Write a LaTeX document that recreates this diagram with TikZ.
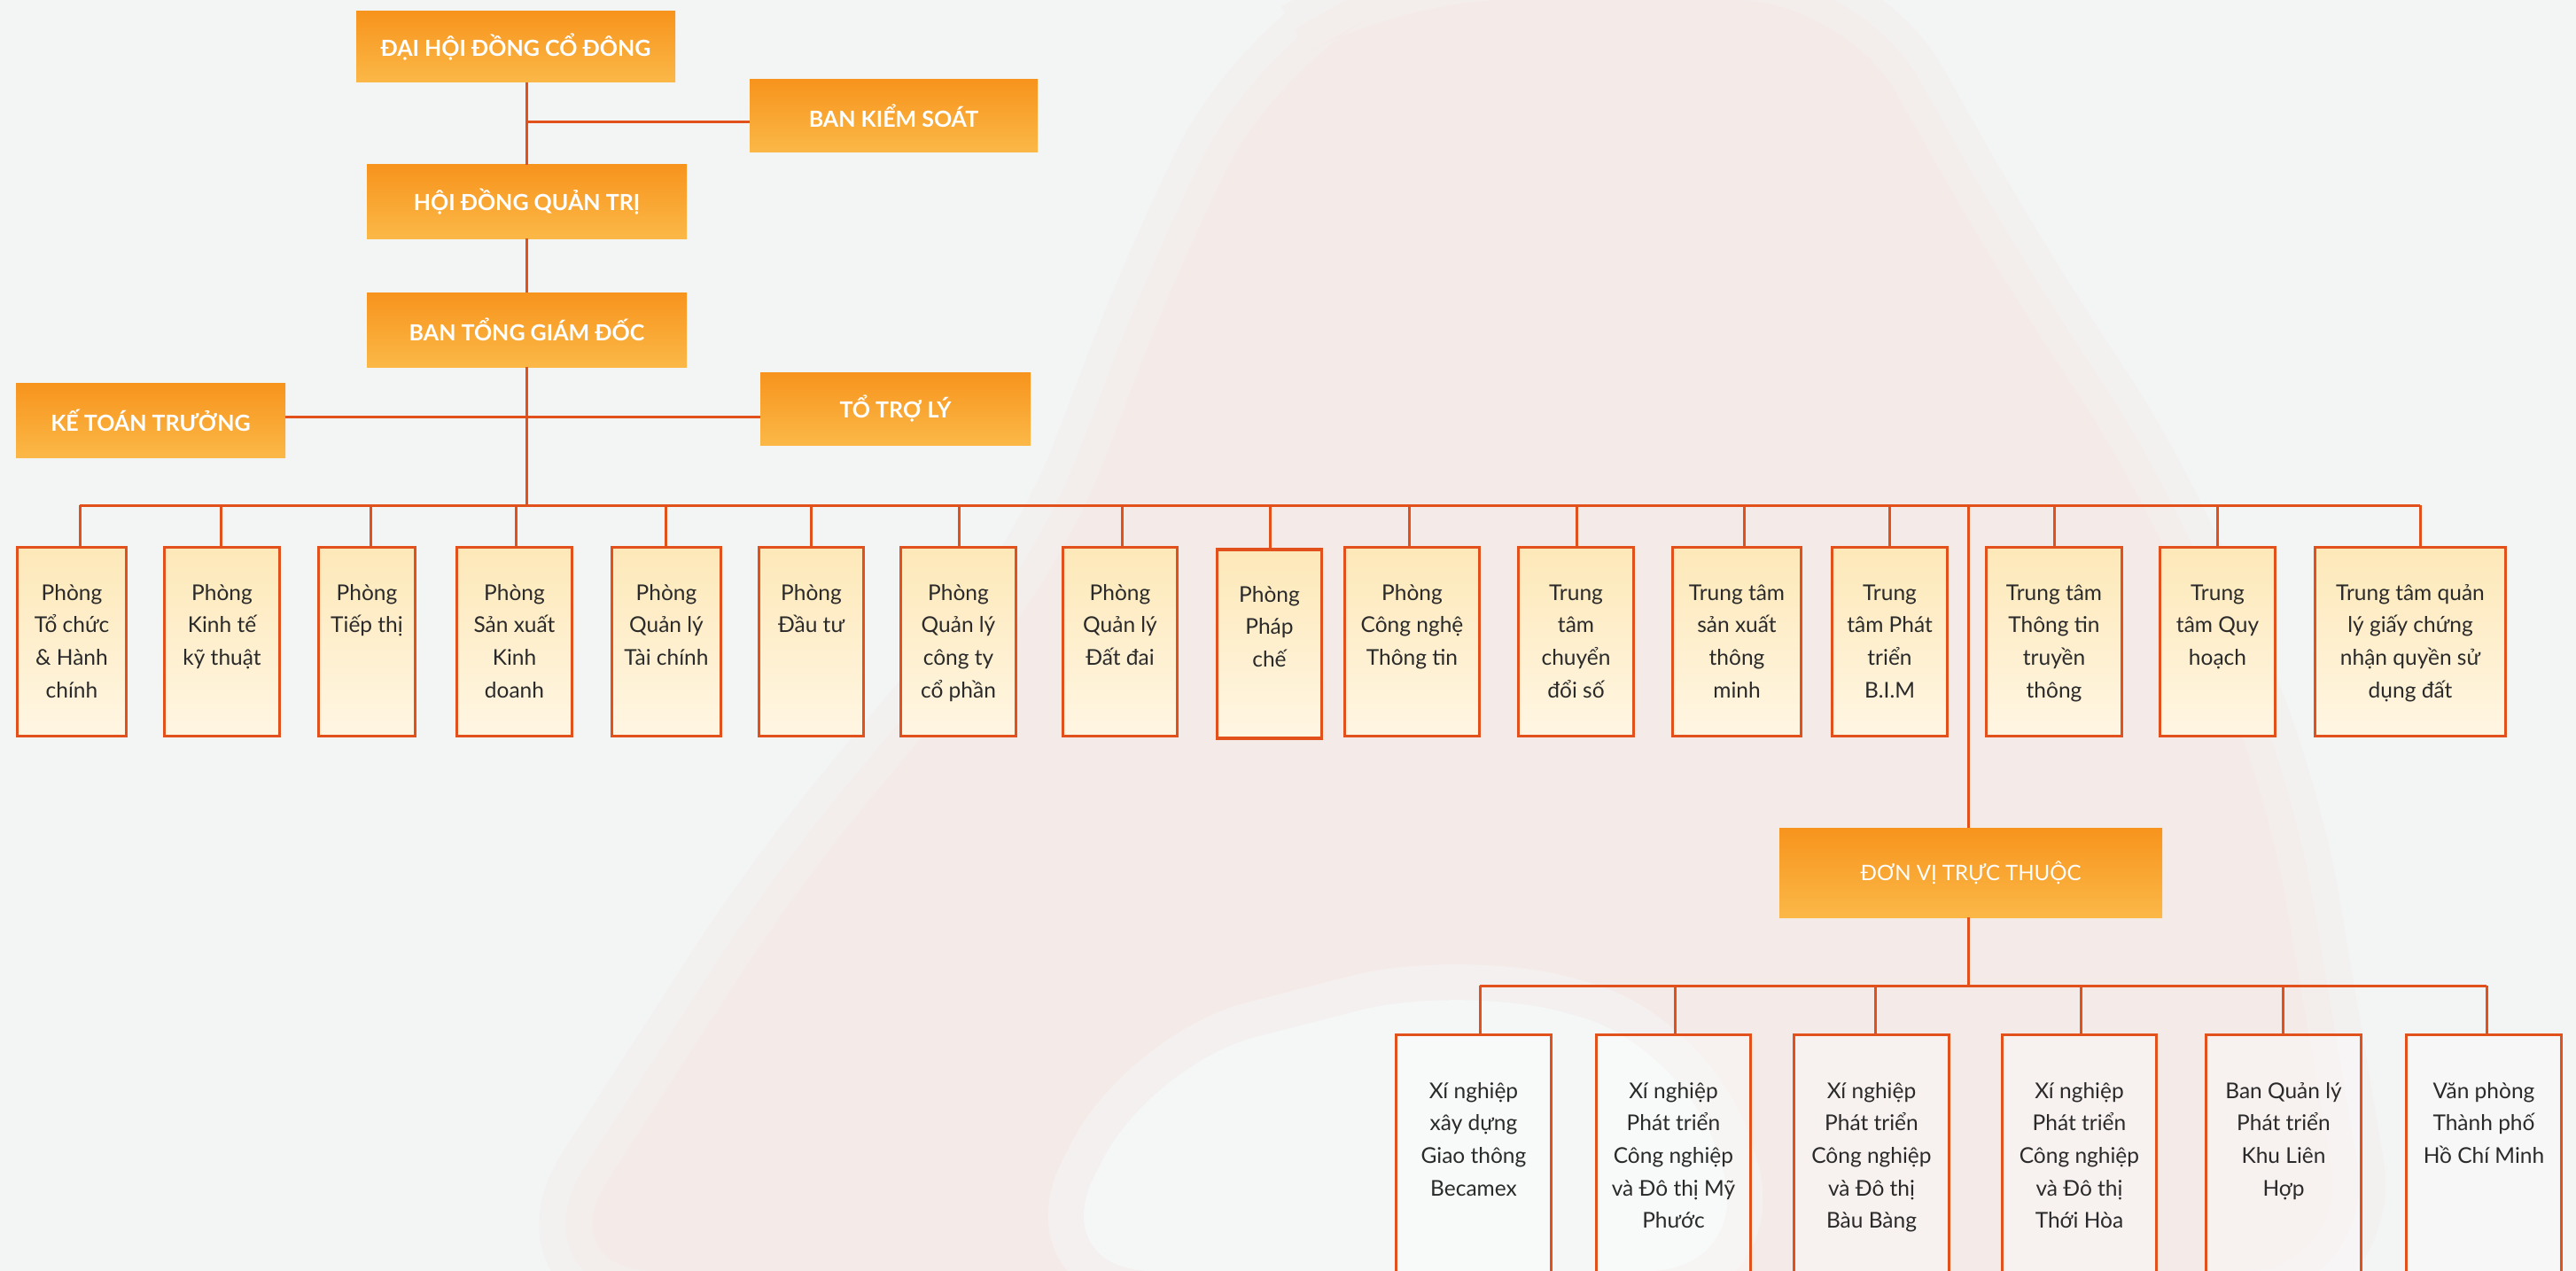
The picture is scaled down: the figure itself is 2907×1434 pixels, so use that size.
\documentclass[tikz,border=0pt]{standalone}
\usepackage{fontspec}
\setmainfont{Lato}
\usetikzlibrary{calc}
\definecolor{bgc}{HTML}{F3F4F4}
\definecolor{linec}{HTML}{E2501C}
\definecolor{hdtop}{HTML}{F7941D}
\definecolor{hdbot}{HTML}{FBB847}
\definecolor{bxtop}{HTML}{FDE8B8}
\definecolor{bxbot}{HTML}{FFF6E3}
\definecolor{txtc}{HTML}{2A2A2A}
\definecolor{pinkbg}{HTML}{F4EBE9}
\definecolor{sleeve}{HTML}{F5F6F6}
\tikzset{
  hdr/.style={rectangle, inner sep=0pt, top color=hdtop, bottom color=hdbot, text=white, font=\fontsize{25}{28}\selectfont\bfseries},
  hdrlight/.style={hdr, font=\fontsize{24}{28}\selectfont},
  unitbox/.style={rectangle, draw=linec, line width=3.5pt, inner sep=0pt, top color=bxtop, bottom color=bxbot, minimum height=213pt},
  subbox/.style={rectangle, draw=linec, line width=3pt, inner sep=0pt, fill=white, fill opacity=0.35, minimum height=300pt},
  lbl/.style={inner sep=0pt, anchor=base, text=txtc},
  conn/.style={draw=linec, line width=3pt},
  handshape/.style={rounded corners=120pt},
}
\newcommand\lns[1]{\parbox[t]{240pt}{\centering\fontsize{24.5}{36.7}\selectfont #1}}
\newcommand\handpath{(620,1434) -- (900,1000) -- (1200,640) -- (1330,300) -- (1440,80) -- (1580,0) -- (2080,0) -- (2250,300) -- (2420,560) -- (2560,900) -- (2650,1434) -- cycle}
\newcommand\sleevepath{(1180,1434) -- (1300,1200) -- (1650,1110) -- (1900,1180) -- (1980,1434) -- cycle}
\begin{document}
\begin{tikzpicture}[x=1pt,y=-1pt]
\clip (0,0) rectangle (2907,1434);
\fill[bgc] (0,0) rectangle (2907,1434);
% faint background photo (hands), soft edges
\draw[pinkbg, handshape, line width=120pt, opacity=0.35] \handpath;
\draw[pinkbg, handshape, line width=60pt, opacity=0.5] \handpath;
\fill[pinkbg, handshape] \handpath;
\draw[sleeve, handshape, line width=80pt, opacity=0.5] \sleevepath;
\fill[sleeve, handshape] \sleevepath;

% top header nodes
\node[hdr, minimum width=360pt, minimum height=80pt] (dhd) at (582,53) {ĐẠI HỘI ĐỒNG CỔ ĐÔNG};
\node[hdr, minimum width=325pt, minimum height=82pt] (bks) at (1008.5,131) {BAN KIỂM SOÁT};
\node[hdr, minimum width=361pt, minimum height=83pt] (hdqt) at (594.5,227.5) {HỘI ĐỒNG QUẢN TRỊ};
\node[hdr, minimum width=361pt, minimum height=84pt] (btgd) at (594.5,372) {BAN TỔNG GIÁM ĐỐC};
\node[hdr, minimum width=304pt, minimum height=84pt] (ktt) at (170,474) {KẾ TOÁN TRƯỞNG};
\node[hdr, minimum width=305pt, minimum height=82pt] (ttl) at (1010.5,461) {TỔ TRỢ LÝ};
\node[hdrlight, minimum width=432pt, minimum height=101pt] (dvtt) at (2224,984.5) {ĐƠN VỊ TRỰC THUỘC};

% upper connectors
\coordinate (jb) at (594.5,138);
\coordinate (jk) at (594.5,470);
\coordinate (jm) at (594.5,570);
\draw[conn] (hdqt.north |- dhd.south) -- (hdqt.north);
\draw[conn] (jb) -- (jb -| bks.west);
\draw[conn] (hdqt.south) -- (btgd.north);
\draw[conn] (btgd.south) -- (jm);
\draw[conn] (jk -| ktt.east) -- (jk -| ttl.west);

% departments
\node[unitbox, minimum width=123pt] (p1) at (81,724) {};
\node[unitbox, minimum width=130pt] (p2) at (250.5,724) {};
\node[unitbox, minimum width=109pt] (p3) at (414,724) {};
\node[unitbox, minimum width=130pt] (p4) at (580.5,724) {};
\node[unitbox, minimum width=123pt] (p5) at (752,724) {};
\node[unitbox, minimum width=118pt] (p6) at (915.5,724) {};
\node[unitbox, minimum width=130pt] (p7) at (1081.5,724) {};
\node[unitbox, minimum width=129pt] (p8) at (1264,724) {};
\node[unitbox, minimum width=118pt] (p9) at (1432.5,726.5) {};
\node[unitbox, minimum width=152pt] (p10) at (1593.5,724) {};
\node[unitbox, minimum width=130pt] (p11) at (1778.5,724) {};
\node[unitbox, minimum width=145pt] (p12) at (1960,724) {};
\node[unitbox, minimum width=130pt] (p13) at (2132.5,724) {};
\node[unitbox, minimum width=153pt] (p14) at (2318,724) {};
\node[unitbox, minimum width=130pt] (p15) at (2502.5,724) {};
\node[unitbox, minimum width=215pt] (p16) at (2720,724) {};

\node[lbl] (l1) at (81,677) {\lns{Phòng\\Tổ chức\\\& Hành\\chính}};
\node[lbl] (l2) at (250.5,677) {\lns{Phòng\\Kinh tế\\kỹ thuật}};
\node[lbl] (l3) at (414,677) {\lns{Phòng\\Tiếp thị}};
\node[lbl] (l4) at (580.5,677) {\lns{Phòng\\Sản xuất\\Kinh\\doanh}};
\node[lbl] (l5) at (752,677) {\lns{Phòng\\Quản lý\\Tài chính}};
\node[lbl] (l6) at (915.5,677) {\lns{Phòng\\Đầu tư}};
\node[lbl] (l7) at (1081.5,677) {\lns{Phòng\\Quản lý\\công ty\\cổ phần}};
\node[lbl] (l8) at (1264,677) {\lns{Phòng\\Quản lý\\Đất đai}};
\node[lbl] (l9) at (1432.5,679) {\lns{Phòng\\Pháp\\chế}};
\node[lbl] (l10) at (1593.5,677) {\lns{Phòng\\Công nghệ\\Thông tin}};
\node[lbl] (l11) at (1778.5,677) {\lns{Trung\\tâm\\chuyển\\đổi số}};
\node[lbl] (l12) at (1960,677) {\lns{Trung tâm\\sản xuất\\thông\\minh}};
\node[lbl] (l13) at (2132.5,677) {\lns{Trung\\tâm Phát\\triển\\B.I.M}};
\node[lbl] (l14) at (2318,677) {\lns{Trung tâm\\Thông tin\\truyền\\thông}};
\node[lbl] (l15) at (2502.5,677) {\lns{Trung\\tâm Quy\\hoạch}};
\node[lbl] (l16) at (2720,677) {\lns{Trung tâm quản\\lý giấy chứng\\nhận quyền sử\\dụng đất}};

% main bus
\coordinate (busL) at (90,570);
\coordinate (busR) at (2731,570);
\draw[conn] (busL) -- (busR);
\foreach \n/\x in {1/90,2/249,3/418,4/582,5/751,6/915,7/1082,8/1266,9/1433,10/1590,11/1779,12/1968,13/2132,14/2318,15/2502,16/2731}{
  \coordinate (t\n) at (\x,570);
  \draw[conn] (t\n) -- (t\n |- p\n.north);
}
\coordinate (jd) at (2221,570);
\draw[conn] (jd) -- (jd |- dvtt.north);

% subsidiaries
\coordinate (jl) at (2221,1112);
\draw[conn] (jd |- dvtt.south) -- (jl);
\node[subbox, minimum width=175pt] (q1) at (1663,1317) {};
\node[subbox, minimum width=174pt] (q2) at (1888.5,1317) {};
\node[subbox, minimum width=175pt] (q3) at (2112,1317) {};
\node[subbox, minimum width=174pt] (q4) at (2346.5,1317) {};
\node[subbox, minimum width=175pt] (q5) at (2577,1317) {};
\node[subbox, minimum width=175pt] (q6) at (2803,1317) {};
\coordinate (lbL) at (1670,1112);
\coordinate (lbR) at (2806,1112);
\draw[conn] (lbL) -- (lbR);
\foreach \n/\x in {1/1670,2/1890,3/2116,4/2348,5/2576,6/2806}{
  \coordinate (s\n) at (\x,1112);
  \draw[conn] (s\n) -- (s\n |- q\n.north);
}
\node[lbl] (m1) at (1663,1239) {\lns{Xí nghiệp\\xây dựng\\Giao thông\\Becamex}};
\node[lbl] (m2) at (1888.5,1239) {\lns{Xí nghiệp\\Phát triển\\Công nghiệp\\và Đô thị Mỹ\\Phước}};
\node[lbl] (m3) at (2112,1239) {\lns{Xí nghiệp\\Phát triển\\Công nghiệp\\và Đô thị\\Bàu Bàng}};
\node[lbl] (m4) at (2346.5,1239) {\lns{Xí nghiệp\\Phát triển\\Công nghiệp\\và Đô thị\\Thới Hòa}};
\node[lbl] (m5) at (2577,1239) {\lns{Ban Quản lý\\Phát triển\\Khu Liên\\Hợp}};
\node[lbl] (m6) at (2803,1239) {\lns{Văn phòng\\Thành phố\\Hồ Chí Minh}};
\end{tikzpicture}
\end{document}
